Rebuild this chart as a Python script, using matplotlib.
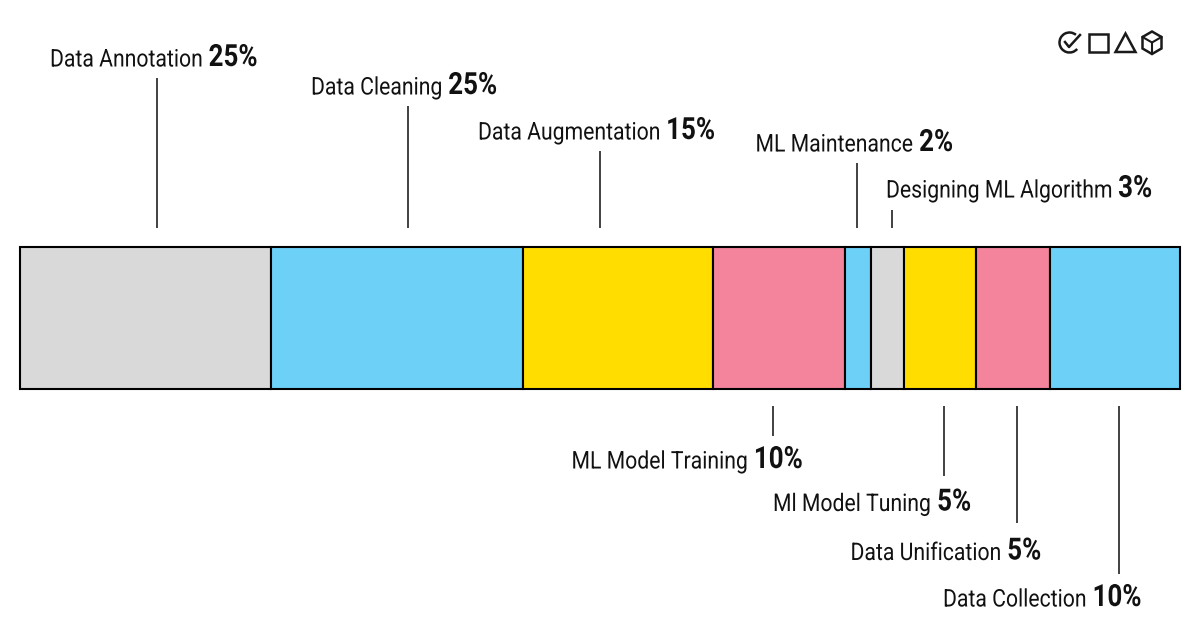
import numpy as np
import matplotlib
matplotlib.use('Agg')
import matplotlib.pyplot as plt
import matplotlib.patheffects as pe
from matplotlib.patches import Rectangle, Polygon, Arc
from matplotlib.text import Text
from matplotlib.transforms import Affine2D, Bbox

plt.rcParams['font.family'] = ['Roboto', 'DejaVu Sans']

# data
categories = ['Data Annotation', 'Data Cleaning', 'Data Augmentation', 'ML Model Training',
              'ML Maintenance', 'Designing ML Algorithm', 'Ml Model Tuning',
              'Data Unification', 'Data Collection']
labels_pct = [25, 25, 15, 10, 2, 3, 5, 5, 10]
# drawn widths differ from the printed percentages
widths = [21.65, 21.7, 16.4, 11.4, 2.2, 2.85, 6.2, 6.4, 11.2]
colors = ['#d9d9d9', '#6dd0f7', '#ffdd00', '#f3849b', '#6dd0f7',
          '#d9d9d9', '#ffdd00', '#f3849b', '#6dd0f7']

# layout, in pixels from the top left corner
BAR_LEFT, BAR_RIGHT, BAR_TOP, BAR_BOTTOM = 20, 1180, 247, 389
text_x = [50, 311, 478, 571.5, 755.5, 886, 773, 850.5, 943]
text_y = [66.5, 94.5, 139.5, 468.5, 151.5, 197.5, 511, 560, 606.5]
leader_x = [157, 408, 600, 773, 857, 891.5, 944, 1017, 1119.3]
leader_y0 = [228, 228, 228, 406, 228, 228, 406, 406, 406]
leader_y1 = [78, 106, 151, 436, 163, 210, 476, 523, 574]

NAME_SQUEEZE = 0.872
PCT_SQUEEZE = 0.85
TEXT_COLOR = '#111111'


class Squeeze(pe.AbstractPathEffect):
    """Roboto Condensed is not installed, so narrow Roboto's glyphs sideways"""
    def __init__(self, sx):
        super().__init__()
        self.sx = sx

    def draw_path(self, renderer, gc, tpath, affine, rgbFace=None):
        renderer.draw_path(gc, tpath, Affine2D().scale(self.sx, 1) + affine, rgbFace)


class NarrowText(Text):
    """Left aligned text drawn through Squeeze, with an extent that matches"""
    def __init__(self, x, y, s, sx, **kwargs):
        super().__init__(x, y, s, path_effects=[Squeeze(sx)], **kwargs)
        self.sx = sx

    def get_window_extent(self, renderer=None, dpi=None):
        bb = super().get_window_extent(renderer, dpi)
        return Bbox.from_extents(bb.x0, bb.y0, bb.x0 + bb.width * self.sx, bb.y1)


W, H = 1200, 630
fig = plt.figure(figsize=(W / 100, H / 100), dpi=100, facecolor='white')

# the bar itself
ax = fig.add_axes([BAR_LEFT / W, 1 - BAR_BOTTOM / H, (BAR_RIGHT - BAR_LEFT) / W, (BAR_BOTTOM - BAR_TOP) / H])
lefts = np.concatenate([[0], np.cumsum(widths)[:-1]])
ax.barh(0, widths, left=lefts, height=1, color=colors, edgecolor='black', linewidth=1.5, clip_on=False)
ax.set_xlim(0, sum(widths))
ax.set_ylim(-0.5, 0.5)
ax.axis('off')

# overlay in pixel coordinates for labels, leaders and icons
ov = fig.add_axes([0, 0, 1, 1], zorder=5)
ov.set_xlim(0, W)
ov.set_ylim(H, 0)
ov.axis('off')
ov.patch.set_alpha(0)

renderer = fig.canvas.get_renderer()
for name, pct, tx, ty, lx, y0, y1 in zip(categories, labels_pct, text_x, text_y, leader_x, leader_y0, leader_y1):
    ov.plot([lx, lx], [y0, y1], color='#333333', lw=1.3, solid_capstyle='butt')
    t = NarrowText(tx, ty, name, NAME_SQUEEZE, fontsize=17.5, color=TEXT_COLOR, va='baseline', ha='left')
    ov.add_artist(t)
    name_w = t.get_window_extent(renderer).width
    p = NarrowText(tx + name_w + 6.5, ty - 0.5, f'{pct}%', PCT_SQUEEZE, fontsize=22, fontweight='bold',
                   color=TEXT_COLOR, va='baseline', ha='left')
    ov.add_artist(p)

# icons top right
ic = dict(fill=False, edgecolor='#1a1a1a', linewidth=1.8)
ov.add_patch(Arc((1069.5, 42.5), 20, 20, theta1=-320, theta2=-50, color='#1a1a1a', lw=1.8))
ov.plot([1065, 1069, 1080], [42, 47, 35], color='#1a1a1a', lw=1.8)
ov.add_patch(Rectangle((1089, 33.5), 18.5, 18.5, **ic))
ov.add_patch(Polygon([[1125.5, 33.5], [1135.5, 52], [1115.5, 52]], closed=True, **ic))
ov.add_patch(Polygon([[1152, 31.5], [1161.5, 37], [1161.5, 48.5], [1152, 54], [1142.5, 48.5], [1142.5, 37]],
                     closed=True, **ic))
ov.plot([1142.5, 1152, 1161.5], [37, 42.5, 37], color='#1a1a1a', lw=1.5)
ov.plot([1152, 1152], [42.5, 54], color='#1a1a1a', lw=1.5)

fig.savefig('out.png', dpi=100, facecolor='white')
